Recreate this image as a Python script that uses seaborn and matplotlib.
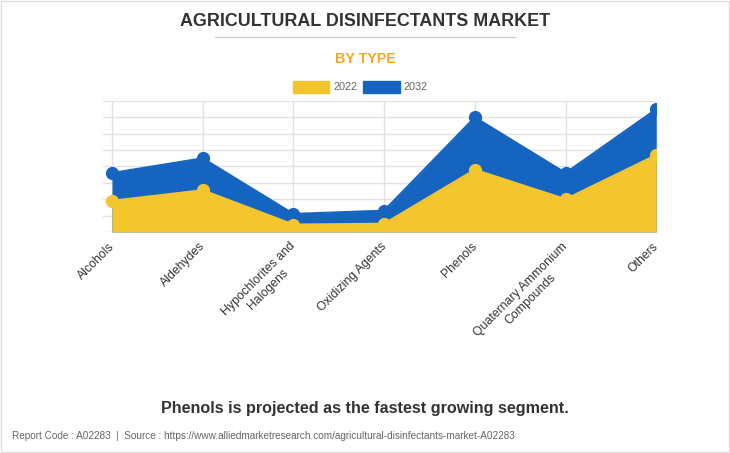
import numpy as np
import pandas as pd
import matplotlib
matplotlib.use("Agg")
import matplotlib.pyplot as plt
import matplotlib.transforms as mtransforms
import seaborn as sns
from matplotlib.patches import Rectangle
from matplotlib.lines import Line2D

categories = ["Alcohols", "Aldehydes", "Hypochlorites and\nHalogens", "Oxidizing Agents",
              "Phenols", "Quaternary Ammonium\nCompounds", "Others"]
values_2022 = [1.9, 2.55, 0.45, 0.5, 3.8, 2.0, 4.7]
values_2032 = [3.6, 4.5, 1.1, 1.3, 7.0, 3.6, 7.5]
years = ["2022", "2032"]

YELLOW = "#F4C62E"
BLUE = "#1565C0"

sns.set_theme(style="white")
plt.rcParams["font.family"] = ["Liberation Sans", "DejaVu Sans"]

df = pd.DataFrame({
    "pos": list(range(len(categories))) * 2,
    "value": values_2022 + values_2032,
    "year": [years[0]] * len(categories) + [years[1]] * len(categories),
})

fig = plt.figure(figsize=(7.3, 4.53), dpi=100)
ax = fig.add_axes([0.141, 0.488, 0.758, 0.289])

x = np.arange(len(categories))
# blue (2032) behind, yellow (2022) in front
ax.fill_between(x, values_2032, color=BLUE, lw=0, zorder=2)
ax.fill_between(x, values_2022, color=YELLOW, lw=0, zorder=3)
sns.lineplot(data=df[df.year == "2032"], x="pos", y="value", color=BLUE, marker="o",
             markersize=9.5, markeredgewidth=0, lw=1.5, ax=ax, zorder=4, legend=False)
sns.lineplot(data=df[df.year == "2022"], x="pos", y="value", color=YELLOW, marker="o",
             markersize=9.5, markeredgewidth=0, lw=1.5, ax=ax, zorder=5, legend=False)

ax.set_xlim(-0.1, 6.0)
ax.set_ylim(0, 8)
ax.set_yticks(np.arange(0, 9, 1))
ax.set_yticklabels([])
ax.set_xticks(x)
ax.set_xticklabels(categories, rotation=45, ha="right", rotation_mode="anchor",
                   fontsize=8.8, color="#333333", multialignment="center")
ax.tick_params(axis="x", length=5, color="#dddddd", pad=1)
ax.tick_params(axis="y", length=0)
# nudge rotated labels so their ends sit at the ticks
shift = mtransforms.ScaledTranslation(-4 / 100, 0, fig.dpi_scale_trans)
for lab in ax.get_xticklabels():
    lab.set_transform(lab.get_transform() + shift)
ax.grid(True, color="#e2e2e2", lw=1, zorder=0)
ax.set_axisbelow(True)
for s in ax.spines.values():
    s.set_visible(False)
ax.set_xlabel("")
ax.set_ylabel("")

# titles
fig.text(0.5, 1 - 21 / 453, "AGRICULTURAL DISINFECTANTS MARKET", ha="center", va="center",
         fontsize=12.9, fontweight="bold", color="#333333")
fig.add_artist(Line2D([215 / 730, 515 / 730], [1 - 37 / 453, 1 - 37 / 453],
                      color="#cccccc", lw=1))
fig.text(0.5, 1 - 59 / 453, "BY TYPE", ha="center", va="center",
         fontsize=10.3, fontweight="bold", color="#F5A623")

# legend
ly = 1 - 87 / 453
fig.add_artist(Rectangle((293 / 730, ly - 6 / 453), 36 / 730, 12 / 453, color=YELLOW))
fig.text(333 / 730, ly, "2022", ha="left", va="center", fontsize=7.8, color="#666666")
fig.add_artist(Rectangle((363 / 730, ly - 6 / 453), 37 / 730, 12 / 453, color=BLUE))
fig.text(404 / 730, ly, "2032", ha="left", va="center", fontsize=7.8, color="#666666")

fig.text(0.5, 1 - 408 / 453, "Phenols is projected as the fastest growing segment.",
         ha="center", va="center", fontsize=11.6, fontweight="bold", color="#333333")
fig.text(12 / 730, 1 - 436 / 453,
         "Report Code : A02283  |  Source : https://www.alliedmarketresearch.com/agricultural-disinfectants-market-A02283",
         ha="left", va="center", fontsize=7.2, color="#666666")

fig.add_artist(Rectangle((0.001, 0.002), 0.997, 0.996, fill=False, ec="#dddddd", lw=1))

fig.savefig("out.png", dpi=100, facecolor="white")
